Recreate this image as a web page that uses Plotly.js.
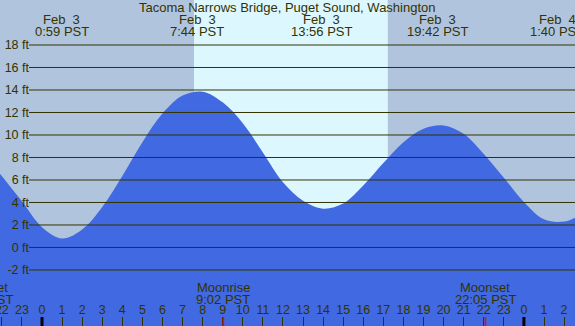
<!DOCTYPE html>
<html><head><meta charset="utf-8">
<script src="https://cdn.plot.ly/plotly-3.0.1.min.js"></script>
<style>html,body{margin:0;padding:0;overflow:hidden;background:#b0c4de;}#chart{width:575px;height:326px;}</style>
</head><body><div id="chart"></div>
<script>
const hours = [-3,-2,-1,0,1,2,3,4,5,6,7,8,9,10,11,12,13,14,15,16,17,18,19,20,21,22,23,24,25,26,27];
const heightsFt = [8.7,6.35,4.1,1.8,0.8,1.6,3.6,6.35,9.35,11.9,13.5,13.85,12.9,11.05,8.45,5.8,4.15,3.45,3.9,5.5,7.5,9.35,10.55,10.85,10.1,8.3,6.2,4.05,2.5,2.3,3.1];

// High / low tide labels
const extremeTimes = [0.983, 7.733, 13.933, 19.7, 25.667];
const extremeDates = ['Feb\u00a0\u00a03','Feb\u00a0\u00a03','Feb\u00a0\u00a03','Feb\u00a0\u00a03','Feb\u00a0\u00a04'];
const extremeLabels = ['0:59 PST','7:44 PST','13:56 PST','19:42 PST','1:40 PST'];

// Moon events
const moonTimes = [-2.94, 9.033, 22.083];
const moonNames = ['Moonset','Moonrise','Moonset'];
const moonLabels = ['21:04 PST','9:02 PST','22:05 PST'];

// Sun (daylight band)
const sunrise = 7.57;
const sunset = 17.22;

// Axis ticks
const hourTicks = [-2,-1,0,1,2,3,4,5,6,7,8,9,10,11,12,13,14,15,16,17,18,19,20,21,22,23,24,25,26];
const hourTickText = ['22','23','0','1','2','3','4','5','6','7','8','9','10','11','12','13','14','15','16','17','18','19','20','21','22','23','0','1','2'];
const midnightTicks = [0, 24];
const ftTicks = [-2,0,2,4,6,8,10,12,14,16,18];
const ftTickText = ['-2 ft','0 ft','2 ft','4 ft','6 ft','8 ft','10 ft','12 ft','14 ft','16 ft','18 ft'];

const TXT = '#333300';
const FONT = 'Liberation Sans, Arial, sans-serif';
const xRange = [-2.092, 26.544];
const yRange = [-6.98, 22.0];

const traces = [
  {x:[-3,27], y:[-10,-10], mode:'lines', line:{width:0, color:'#4169e1'}, hoverinfo:'skip', showlegend:false},
  {x:hours, y:heightsFt, mode:'lines', fill:'tonexty', fillcolor:'#4169e1',
   line:{width:0, color:'#4169e1', shape:'spline', smoothing:1}, hoverinfo:'skip', showlegend:false},
  {x:[5], y:[5], yaxis:'y2', mode:'markers', marker:{opacity:0}, hoverinfo:'skip', showlegend:false}
];

const shapes = [];
shapes.push({type:'rect', xref:'x', yref:'paper', x0:sunrise, x1:sunset, y0:0, y1:1,
  fillcolor:'#ddf7ff', line:{width:0}, layer:'below'});
ftTicks.forEach(v => shapes.push({type:'line', xref:'paper', yref:'y', x0:29/575, x1:1, y0:v, y1:v,
  line:{color:TXT, width:1}, layer:'above'}));
midnightTicks.forEach(v => shapes.push({type:'line', xref:'x', yref:'paper', x0:v, x1:v, y0:0, y1:9/326,
  line:{color:'#000000', width:3}, layer:'above'}));
moonTimes.forEach(v => shapes.push({type:'line', xref:'x', yref:'paper', x0:v, x1:v, y0:0, y1:9/326,
  line:{color:'#ff0000', width:1.5}, layer:'above'}));

const annotations = [];
const F13 = {family:FONT, size:13, color:TXT};
annotations.push({text:'Tacoma Narrows Bridge, Puget Sound, Washington', xref:'paper', yref:'paper',
  x:0.5, y:1-7.5/326, xanchor:'center', yanchor:'middle', showarrow:false, font:F13});
extremeTimes.forEach((t,i) => {
  annotations.push({text:extremeDates[i], xref:'x', yref:'paper', x:t, y:1-19.5/326, xanchor:'center', yanchor:'middle',
    showarrow:false, font:F13});
  annotations.push({text:extremeLabels[i], xref:'x', yref:'paper', x:t, y:1-31.5/326, xanchor:'center', yanchor:'middle',
    showarrow:false, font:F13});
});
moonTimes.forEach((t,i) => {
  let ax = t, shift = 0;
  if (t < xRange[0]) { ax = -2.0; shift = (t - ax) * 575 / (xRange[1]-xRange[0]); }
  annotations.push({text:moonNames[i], xref:'x', yref:'paper', x:ax, xshift:shift, y:(326-287.5)/326, xanchor:'center', yanchor:'middle',
    showarrow:false, font:F13});
  annotations.push({text:moonLabels[i], xref:'x', yref:'paper', x:ax, xshift:shift, y:(326-299.5)/326, xanchor:'center', yanchor:'middle',
    showarrow:false, font:F13});
});

const layout = {
  width:575, height:326, margin:{l:0,r:0,t:0,b:0},
  paper_bgcolor:'#b0c4de', plot_bgcolor:'#b0c4de',
  showlegend:false,
  xaxis:{range:xRange, showgrid:false, zeroline:false, showline:false,
    ticks:'inside', ticklen:9, tickwidth:1, tickcolor:TXT,
    tickvals:hourTicks, ticktext:hourTickText, ticklabelposition:'inside', ticklabeloverflow:'allow',
    tickfont:{family:FONT, size:12.5, color:TXT}, fixedrange:true},
  yaxis:{range:yRange, showgrid:false, zeroline:false, showline:false, showticklabels:false, ticks:'', fixedrange:true},
  yaxis2:{range:yRange, overlaying:'y', anchor:'free', position:29/575, side:'left',
    showgrid:false, zeroline:false, showline:false, ticks:'',
    tickvals:ftTicks, ticktext:ftTickText, tickfont:{family:FONT, size:12.5, color:TXT}, fixedrange:true},
  shapes:shapes,
  annotations:annotations
};

Plotly.newPlot('chart', traces, layout, {staticPlot:true, displayModeBar:false});
</script>
</body></html>
